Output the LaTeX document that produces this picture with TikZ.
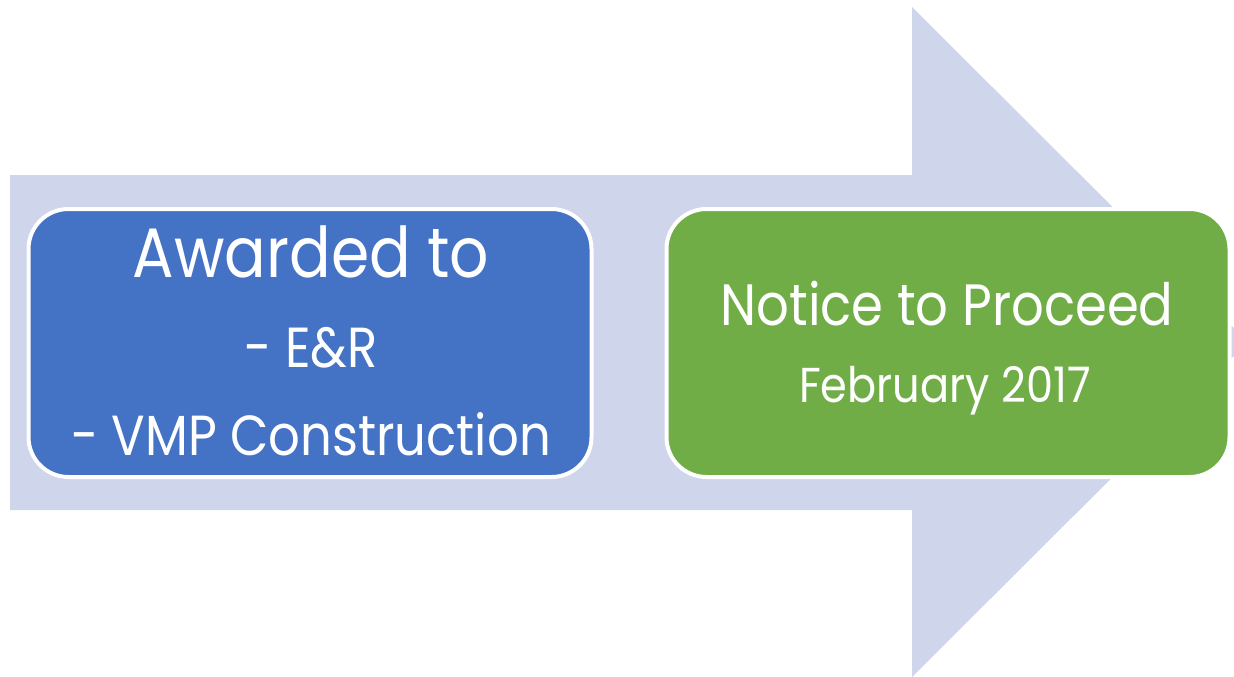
\documentclass[tikz,border=0pt]{standalone}
\usepackage{fontspec}
\setmainfont{Poppins}[FakeStretch=0.88]
\usepackage{tikz}
\usetikzlibrary{calc}
\definecolor{shaft}{HTML}{CFD5EA}
\definecolor{award}{HTML}{4472C4}
\definecolor{notice}{HTML}{70AD47}
\tikzset{
  arrowbg/.style={fill=shaft, draw=none},
  box/.style={draw=white, line width=4pt, rounded corners=40pt,
    minimum width=563pt, minimum height=268pt, inner sep=0pt},
  txt/.style={text=white, anchor=base, inner sep=0pt},
}
\begin{document}
\begin{tikzpicture}[x=1pt,y=-1pt]
  \useasboundingbox (0,0) rectangle (1234,677);
  \clip (0,0) rectangle (1234,677);
  \coordinate (S1) at (10,175);
  \coordinate (S2) at (912,175);
  \coordinate (H1) at (912,7);
  \coordinate (T) at (1248,342);
  \coordinate (H2) at (912,677);
  \coordinate (S3) at (912,510);
  \coordinate (S4) at (10,510);

  \fill[arrowbg] (S1)--(S2)--(H1)--(T)--(H2)--(S3)--(S4)--cycle;

  \node[box, fill=award] (awarded) at (310,343) {};
  \node[box, fill=notice] (notice) at (948,343) {};

  \node[txt, font=\fontsize{70}{84}\selectfont] (aw1) at (311,277) {Awarded to};
  \node[txt, font=\fontsize{56.5}{68}\selectfont] (aw2) at (311,367) {- E\&R};
  \node[txt, font=\fontsize{56.5}{68}\selectfont] (aw3) at (311,455) {- VMP Construction};
  \node[txt, font=\fontsize{58.3}{70}\selectfont] (nt1) at (947,325) {Notice to Proceed};
  \node[txt, font=\fontsize{49}{59}\selectfont] (nt2) at (945,402) {February 2017};
\end{tikzpicture}
\end{document}
